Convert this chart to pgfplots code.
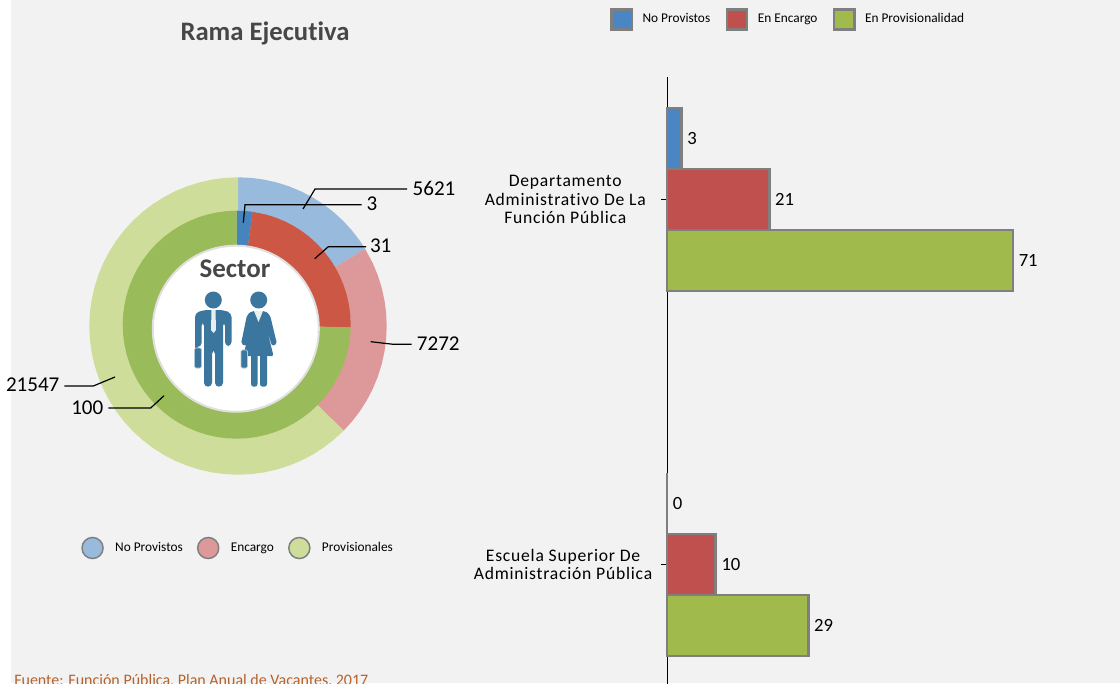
\documentclass[border=0pt]{standalone}
\usepackage{fontspec}
\setmainfont{Carlito}[Ligatures={TeX,NoCommon}]
\newfontfamily\catfont[LetterSpace=4.4,Ligatures={TeX,NoCommon}]{Carlito}
\usepackage{pgfplots}
\pgfplotsset{compat=1.18}
\definecolor{Panel}{HTML}{F2F2F2}
\definecolor{BarBlue}{HTML}{4A86C4}
\definecolor{BarRed}{HTML}{C0504D}
\definecolor{BarGreen}{HTML}{A0BA4C}
\definecolor{BarEdge}{HTML}{7F7F7F}
\definecolor{OutBlue}{HTML}{98BADD}
\definecolor{OutRed}{HTML}{DD9899}
\definecolor{OutGreen}{HTML}{CEDD9A}
\definecolor{InBlue}{HTML}{4684BD}
\definecolor{InRed}{HTML}{CC5745}
\definecolor{InGreen}{HTML}{9ABB59}
\definecolor{Icon}{HTML}{3A769E}
\definecolor{Source}{HTML}{B5622B}
\newcommand{\fs}[2]{\fontsize{#1pt}{#2pt}\selectfont}
\newcommand{\pad}{\rule{4.9pt}{0pt}}

\begin{document}
\begin{tikzpicture}
% page is 1120x683 px at 0.75pt per px
\path[use as bounding box,clip] (0pt,0pt) rectangle (840pt,512.25pt);
\fill[white] (0pt,0pt) rectangle (840pt,512.25pt);
\fill[Panel] (8.25pt,0pt) rectangle (840pt,512.25pt);

% donut, axis units are px around the centre
\begin{axis}[
  at={(66pt,155.25pt)}, anchor=south west,
  scale only axis, width=225pt, height=225pt,
  xmin=-150, xmax=150, ymin=-150, ymax=150,
  hide axis, clip=false,
  legend columns=3,
  legend style={at={(-0.0233,-0.24)}, anchor=west, draw=none, fill=none,
    inner sep=0pt, font=\fs{10}{11}, nodes={text height=7pt,text depth=2pt},
    /tikz/every even column/.append style={column sep=8.6pt},
    /tikz/every odd column/.append style={column sep=6.5pt}},
  legend cell align=left,
  legend image code/.code={\draw[#1,draw=BarEdge,line width=1.1pt] (8.25pt,0pt) circle (7.9pt);
    \path[fill=none,draw=none] (0pt,-8.5pt) rectangle (16.5pt,8.5pt);},
]
% outer ring: 5621, 7272, 21547 of 34440
\addplot[fill=OutBlue,draw=none,data cs=polar] coordinates {(0,0) (90,148.7) (85,148.7) (80,148.7) (75,148.7) (70,148.7) (65,148.7) (60,148.7) (55,148.7) (50,148.7) (45,148.7) (40,148.7) (35,148.7) (31.24,148.7)};
\addlegendentry{No Provistos}
\addplot[fill=OutRed,draw=none,data cs=polar] coordinates {(0,0) (31.24,148.7) (25,148.7) (20,148.7) (15,148.7) (10,148.7) (5,148.7) (0,148.7) (-5,148.7) (-10,148.7) (-15,148.7) (-20,148.7) (-25,148.7) (-30,148.7) (-35,148.7) (-40,148.7) (-44.77,148.7)};
\addlegendentry{Encargo}
\addplot[fill=OutGreen,draw=none,data cs=polar] coordinates {(0,0) (-44.77,148.7) (-50,148.7) (-55,148.7) (-60,148.7) (-65,148.7) (-70,148.7) (-75,148.7) (-80,148.7) (-85,148.7) (-90,148.7) (-95,148.7) (-100,148.7) (-105,148.7) (-110,148.7) (-115,148.7) (-120,148.7) (-125,148.7) (-130,148.7) (-135,148.7) (-140,148.7) (-145,148.7) (-150,148.7) (-155,148.7) (-160,148.7) (-165,148.7) (-170,148.7) (-175,148.7) (-180,148.7) (-185,148.7) (-190,148.7) (-195,148.7) (-200,148.7) (-205,148.7) (-210,148.7) (-215,148.7) (-220,148.7) (-225,148.7) (-230,148.7) (-235,148.7) (-240,148.7) (-245,148.7) (-250,148.7) (-255,148.7) (-260,148.7) (-265,148.7) (-270,148.7)};
\addlegendentry{Provisionales}
% inner ring: 3, 31, 100 of 134, its centre sits 1.3 px up and left
\addplot[forget plot,fill=InBlue,draw=none,data cs=polar,xshift=-0.98pt,yshift=0.98pt] coordinates {(0,0) (90,114) (85,114) (81.94,114)};
\addplot[forget plot,fill=InRed,draw=none,data cs=polar,xshift=-0.98pt,yshift=0.98pt] coordinates {(0,0) (81.94,114) (75,114) (70,114) (65,114) (60,114) (55,114) (50,114) (45,114) (40,114) (35,114) (30,114) (25,114) (20,114) (15,114) (10,114) (5,114) (0,114) (-1.34,114)};
\addplot[forget plot,fill=InGreen,draw=none,data cs=polar,xshift=-0.98pt,yshift=0.98pt] coordinates {(0,0) (-1.34,114) (-5,114) (-10,114) (-15,114) (-20,114) (-25,114) (-30,114) (-35,114) (-40,114) (-45,114) (-50,114) (-55,114) (-60,114) (-65,114) (-70,114) (-75,114) (-80,114) (-85,114) (-90,114) (-95,114) (-100,114) (-105,114) (-110,114) (-115,114) (-120,114) (-125,114) (-130,114) (-135,114) (-140,114) (-145,114) (-150,114) (-155,114) (-160,114) (-165,114) (-170,114) (-175,114) (-180,114) (-185,114) (-190,114) (-195,114) (-200,114) (-205,114) (-210,114) (-215,114) (-220,114) (-225,114) (-230,114) (-235,114) (-240,114) (-245,114) (-250,114) (-255,114) (-260,114) (-265,114) (-270,114)};
\draw[fill=white,draw=black!12,line width=1.5pt] (axis cs:-2.2,-2.7) circle[radius=83];
% leader lines and values
\draw[black,line width=0.9pt] (axis cs:65,117) -- (axis cs:77,137) -- (axis cs:169,137);
\draw[black,line width=0.9pt] (axis cs:5.3,103.3) -- (axis cs:7,121.3) -- (axis cs:123.7,121.3);
\draw[black,line width=0.9pt] (axis cs:76.7,67.3) -- (axis cs:90.3,79.3) -- (axis cs:128,79.3);
\draw[black,line width=0.9pt] (axis cs:132.7,-15.7) -- (axis cs:155.3,-18.3) -- (axis cs:173.7,-18.3);
\draw[black,line width=0.9pt] (axis cs:-123,-51) -- (axis cs:-144.7,-60) -- (axis cs:-173.7,-60);
\draw[black,line width=0.9pt] (axis cs:-74,-69.7) -- (axis cs:-87.3,-82) -- (axis cs:-129.7,-82);
\node[font=\fs{15.8}{18}] at (axis cs:196,138) {5621};
\node[font=\fs{15.8}{18}] at (axis cs:134,122) {3};
\node[font=\fs{15.8}{18}] at (axis cs:142.7,80) {31};
\node[font=\fs{15.8}{18}] at (axis cs:200.3,-17.3) {7272};
\node[font=\fs{15.8}{18}] at (axis cs:-205.3,-59) {21547};
\node[font=\fs{15.8}{18}] at (axis cs:-150.7,-81.3) {100};
\node[font=\bfseries\fs{20.2}{22},text=black!72] at (axis cs:-3,57) {Sector};
\end{axis}

% bars, x in vacancies
\begin{axis}[
  at={(500.25pt,-12.75pt)}, anchor=south west,
  scale only axis, width=339.75pt, height=467.25pt,
  xbar=0pt, bar width=45.75pt,
  xmin=0, xmax=92.96, ymin=-0.371, ymax=1.3356,
  clip=false,
  axis x line=none, axis y line*=left,
  axis line style={black,line width=0.75pt,-},
  ytick={0,1},
  yticklabels={{Escuela Superior De\\Administración Pública},{Departamento\pad\\Administrativo De La\pad\\Función Pública\pad}},
  y tick label style={align=center,font=\catfont\fs{13.2}{13.9},xshift=-3pt},
  y tick style={black,line width=0.75pt},
  major tick length=4.5pt, tick align=outside,
  /pgf/number format/assume math mode=true,
  point meta=x,
  nodes near coords,
  nodes near coords style={font=\fs{14}{16},text=black},
  legend columns=3,
  legend style={at={(-0.1258,1.0923)}, anchor=west, draw=none, fill=none,
    inner sep=0pt, font=\fs{10}{11}, nodes={text height=7pt,text depth=2pt},
    /tikz/every even column/.append style={column sep=9.5pt},
    /tikz/every odd column/.append style={column sep=5pt}},
  legend cell align=left,
  legend image code/.code={\draw[#1,draw=BarEdge,line width=2pt] (1pt,-7.6pt) rectangle (16.2pt,7.6pt);
    \path[fill=none,draw=none] (0pt,-8.6pt) rectangle (17.2pt,8.6pt);},
]
\addplot[fill=BarBlue,draw=BarEdge,line width=2pt,bar shift=45.75pt] coordinates {(0,0) (3,1)};
\addlegendentry{No Provistos}
\addplot[fill=BarRed,draw=BarEdge,line width=2pt,bar shift=0pt] coordinates {(10,0) (21,1)};
\addlegendentry{En Encargo}
\addplot[fill=BarGreen,draw=BarEdge,line width=2pt,bar shift=-45.75pt] coordinates {(29,0) (71,1)};
\addlegendentry{En Provisionalidad}
\end{axis}

% title, source and the two figures, in px from the top left
\begin{scope}[x=0.75pt,y=-0.75pt,yshift=512.25pt]
\node[font=\bfseries\fs{20}{22},text=black!72] at (265,33) {Rama Ejecutiva};
\node[font=\fs{12}{14},text=Source,anchor=base west,inner sep=0pt] at (14,685.5) {Fuente: Función Pública, Plan Anual de Vacantes, 2017};
% man
\fill[Icon] (213.3,300) circle[radius=8.5];
\fill[Icon,rounded corners=3pt] (195,354) -- (195,313) -- (204,310) -- (223,310) -- (231.5,313) -- (231.5,346) -- (225,346) -- (225,322) -- (223,322) -- (223,386.7) -- (215,386.7) -- (215,350) -- (212,350) -- (212,386.7) -- (204,386.7) -- (204,322) -- (201.5,322) -- (201.5,347) -- (195,347) -- cycle;
\fill[white!88!Icon] (211.5,310) -- (215.5,310) -- (216,330) -- (213.5,333) -- (211,330) -- cycle;
\fill[Icon,draw=white!60!Icon,line width=0.5pt,rounded corners=1pt] (194.5,348) rectangle (201.5,368);
% woman
\fill[Icon] (258.7,300) circle[radius=8.5];
\fill[Icon,rounded corners=1.5pt] (252,311) -- (265,311) -- (270,315) -- (277,344) -- (272,346) -- (267,330) -- (273.5,356) -- (243,356) -- (250,330) -- (246,346) -- (241,344) -- (247,315) -- cycle;
\fill[Icon,rounded corners=2pt] (251,354) rectangle (257.5,386.7);
\fill[Icon,rounded corners=2pt] (260,354) rectangle (267,386.7);
\fill[white!88!Icon] (254,311) -- (263,311) -- (258.5,322) -- cycle;
\fill[Icon,draw=white!60!Icon,line width=0.5pt,rounded corners=1pt] (241,350) rectangle (247.5,368);
\end{scope}
\end{tikzpicture}
\end{document}
